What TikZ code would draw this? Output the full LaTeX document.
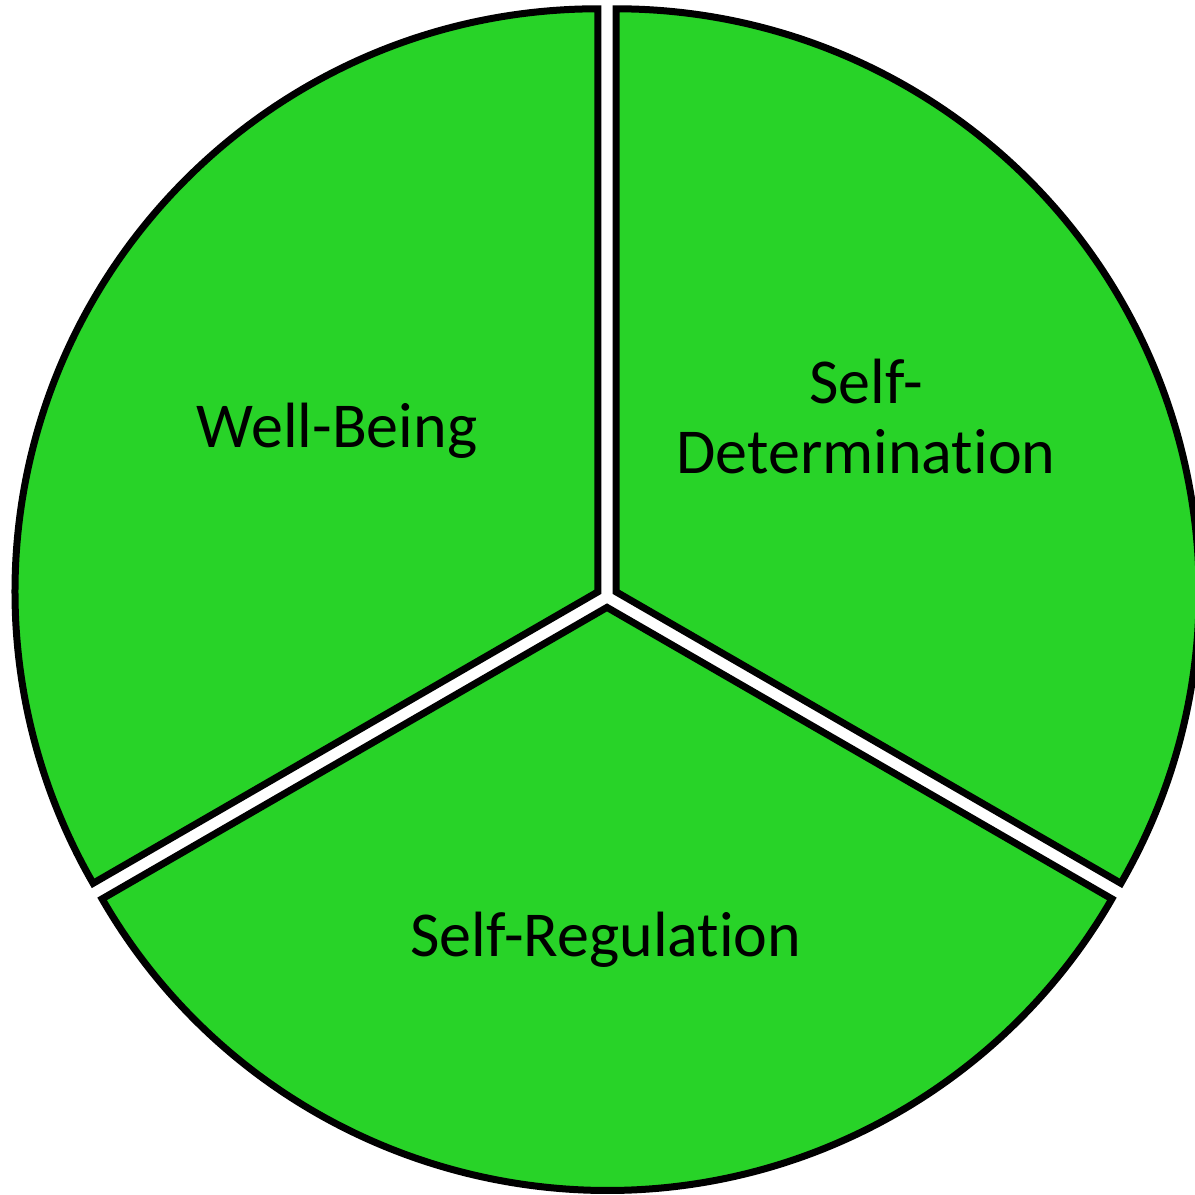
\documentclass[tikz,border=0pt]{standalone}
\usepackage{fontspec}
\setmainfont{Carlito}[Ligatures=NoCommon]
\usetikzlibrary{calc}
\definecolor{piegreen}{RGB}{40,211,40}
\begin{document}
\begin{tikzpicture}[x=1pt,y=1pt,
  sector/.style={fill=piegreen,draw=black,line width=7pt,miter limit=10},
  lbl/.style={font=\fontsize{64}{70}\selectfont,align=center,text=black}]
\useasboundingbox (0,0) rectangle (1195,1195);
\clip (0,0) rectangle (1195,1195);
\def\R{583}
\coordinate (c) at (607,598);
\coordinate (vl) at ($(c)+(150:10.4)$);
\coordinate (vr) at ($(c)+(30:10.4)$);
\coordinate (vb) at ($(c)+(270:10.4)$);
\draw[sector] (vl) -- ++(90:\R) arc[start angle=90,end angle=210,radius=\R] -- cycle;
\draw[sector] (vr) -- ++(-30:\R) arc[start angle=-30,end angle=90,radius=\R] -- cycle;
\draw[sector] (vb) -- ++(210:\R) arc[start angle=210,end angle=330,radius=\R] -- cycle;
\node[lbl] (wb) at (337,764) {Well-Being};
\node[lbl] (sd) at (866,778) {Self-\\Determination};
\node[lbl] (sr) at (606,255) {Self-Regulation};
\end{tikzpicture}
\end{document}
